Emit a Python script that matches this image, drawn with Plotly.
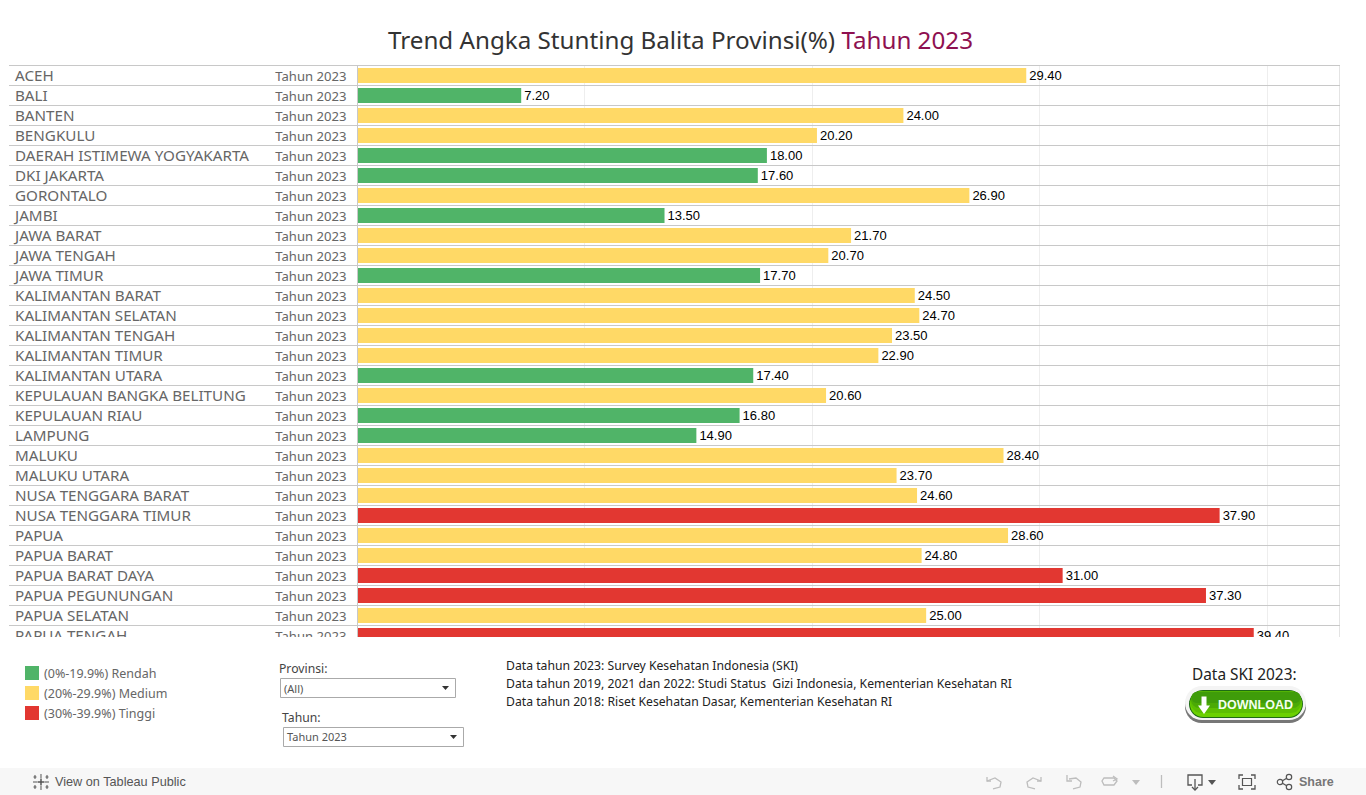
import math
import plotly.graph_objects as go

W, H = 1366, 795

provinces = ["ACEH", "BALI", "BANTEN", "BENGKULU", "DAERAH ISTIMEWA YOGYAKARTA", "DKI JAKARTA", "GORONTALO",
             "JAMBI", "JAWA BARAT", "JAWA TENGAH", "JAWA TIMUR", "KALIMANTAN BARAT", "KALIMANTAN SELATAN",
             "KALIMANTAN TENGAH", "KALIMANTAN TIMUR", "KALIMANTAN UTARA", "KEPULAUAN BANGKA BELITUNG",
             "KEPULAUAN RIAU", "LAMPUNG", "MALUKU", "MALUKU UTARA", "NUSA TENGGARA BARAT",
             "NUSA TENGGARA TIMUR", "PAPUA", "PAPUA BARAT", "PAPUA BARAT DAYA", "PAPUA PEGUNUNGAN",
             "PAPUA SELATAN", "PAPUA TENGAH"]
values = [29.40, 7.20, 24.00, 20.20, 18.00, 17.60, 26.90, 13.50, 21.70, 20.70, 17.70, 24.50, 24.70, 23.50,
          22.90, 17.40, 20.60, 16.80, 14.90, 28.40, 23.70, 24.60, 37.90, 28.60, 24.80, 31.00, 37.30, 25.00, 39.40]
category_colors = {"low": "#50B468", "mid": "#FFD966", "high": "#E23731"}
categories = ["mid", "low", "mid", "mid", "low", "low", "mid", "low", "mid", "mid", "low", "mid", "mid", "mid",
              "mid", "low", "mid", "low", "low", "mid", "mid", "mid", "high", "mid", "mid", "high", "high", "mid", "high"]
year_label = "Tahun 2023"
legend_items = [("(0%-19.9%) Rendah", "low"), ("(20%-29.9%) Medium", "mid"), ("(30%-39.9%) Tinggi", "high")]
notes = ["Data tahun 2023: Survey Kesehatan Indonesia (SKI)",
         "Data tahun 2019, 2021 dan 2022: Studi Status  Gizi Indonesia, Kementerian Kesehatan RI",
         "Data tahun 2018: Riset Kesehatan Dasar, Kementerian Kesehatan RI"]

FONT = "Noto Sans"
PX_PER_UNIT = 22.75
X0 = 357.4
L, R, T, B = 9, 1340, 65, 637
idx = list(range(len(provinces)))
TEXT_SHIFT = 0.09  # row units: centres scatter text on the row


def px2x(px):
    return (px - X0) / PX_PER_UNIT


def fx(p):
    return p / W


def fy(p):
    return 1 - p / H


shapes = []
annots = []


def rect(x0, y0, x1, y1, fill=None, line=None, lw=1):
    shapes.append(dict(type="rect", xref="paper", yref="paper", x0=fx(x0), x1=fx(x1), y0=fy(y0), y1=fy(y1),
                       fillcolor=fill or "rgba(0,0,0,0)", line=dict(color=line or "rgba(0,0,0,0)", width=lw if line else 0),
                       layer="above"))


def path(points, color="#BDBDBD", fill=None, lw=1.3, closed=False):
    d = "M" + " L".join(f"{fx(a):.5f},{fy(b):.5f}" for a, b in points) + (" Z" if closed else "")
    shapes.append(dict(type="path", xref="paper", yref="paper", path=d, fillcolor=fill or "rgba(0,0,0,0)",
                       line=dict(color=color, width=lw) if color != "none" else dict(width=0), layer="above"))


def pill(x0, y0, x1, y1, fill):
    r = (y1 - y0) / 2
    cy = (y0 + y1) / 2
    steps = 16
    pts = [(x1 - r + r * math.sin(math.pi * k / steps), cy - r * math.cos(math.pi * k / steps)) for k in range(steps + 1)]
    pts += [(x0 + r - r * math.sin(math.pi * k / steps), cy + r * math.cos(math.pi * k / steps)) for k in range(steps + 1)]
    path(pts, color="none", fill=fill, closed=True)


def text(x, y, s, size=12, color="#555", anchor="left", family=FONT):
    annots.append(dict(xref="paper", yref="paper", x=fx(x), y=fy(y), text=s, showarrow=False, xanchor=anchor,
                       yanchor="middle", font=dict(size=size, color=color, family=family), align=anchor))


fig = go.Figure()

fig.add_trace(go.Bar(y=idx, x=values, orientation="h", width=0.75,
                     marker=dict(color=[category_colors[c] for c in categories], line=dict(width=0)),
                     text=[f"{v:.2f}" for v in values], textposition="outside", textangle=0,
                     constraintext="none", cliponaxis=True,
                     textfont=dict(family="Liberation Sans", size=13, color="#000"), hoverinfo="skip"))
fig.add_trace(go.Scatter(y=[i + TEXT_SHIFT for i in idx], x=[px2x(15)] * len(idx), mode="text", text=provinces,
                         textposition="middle right", textfont=dict(family=FONT, size=15.2, color="#666"),
                         cliponaxis=True, hoverinfo="skip"))
fig.add_trace(go.Scatter(y=[i + TEXT_SHIFT + 0.01 for i in idx], x=[px2x(346.5)] * len(idx), mode="text",
                         text=[year_label] * len(idx), textposition="middle left",
                         textfont=dict(family=FONT, size=13.1, color="#666"), cliponaxis=True, hoverinfo="skip"))

# frame lines
for xv in (px2x(357.5), px2x(1340)):
    shapes.append(dict(type="line", xref="x", yref="paper", x0=xv, x1=xv, y0=fy(B), y1=fy(65.5),
                       line=dict(color="#C8C8C8", width=1), layer="above"))
shapes.append(dict(type="line", xref="paper", yref="paper", x0=fx(L), x1=fx(R), y0=fy(65.5), y1=fy(65.5),
                   line=dict(color="#C8C8C8", width=1), layer="above"))

# toolbar
rect(0, 768, W, 795, fill="#F7F7F7")

# title
annots.append(dict(xref="paper", yref="paper", x=fx(680), y=fy(40), showarrow=False, xanchor="center", yanchor="middle",
                   text='Trend Angka Stunting Balita Provinsi(%) <span style="color:#8E1050">Tahun 2023</span>',
                   font=dict(family=FONT, size=24.2, color="#333")))

# legend
for i, (lab, c) in enumerate(legend_items):
    y = 673 + 20 * i
    rect(25, y - 7, 39, y + 7, fill=category_colors[c])
    text(42, y + 0.5, lab, 12.5, "#666")

# filters
text(277, 668.5, "Provinsi:", 12.2, "#444")
rect(280.5, 678.5, 455.5, 697.5, fill="#fff", line="#AAAAAA")
text(281.5, 688, "(All)", 11, "#555")
path([(442, 686), (449, 686), (445.5, 690)], color="none", fill="#333", closed=True)
text(279.5, 717.5, "Tahun:", 12.2, "#444")
rect(283.5, 727.5, 463.5, 746.5, fill="#fff", line="#AAAAAA")
text(284.5, 736.5, year_label, 11, "#555")
path([(450, 735), (457, 735), (453.5, 739)], color="none", fill="#333", closed=True)

# notes
for i, n in enumerate(notes):
    text(504, 665.5 + 18 * i, n, 12.2, "#222")

# download button
text(1244, 674.5, "Data SKI 2023:", 15.4, "#222", "center")
pill(1185, 690, 1306, 723, "#777777")
pill(1185, 686, 1306, 720, "#F4F4F4")
pill(1189, 690, 1303, 718, "#1F6B14")
pill(1190, 691, 1302, 717, "#6BD000")
pill(1190.5, 691, 1301.5, 713, "#5CBE02")
pill(1191, 691.5, 1301, 708, "#4BAA06")
pill(1191.5, 692, 1300.5, 703, "#3F9C0A")
path([(1201.5, 696.5), (1206.5, 696.5), (1206.5, 705.5), (1210, 705.5), (1204, 714), (1198, 705.5), (1201.5, 705.5)],
     color="none", fill="#fff", closed=True)
annots.append(dict(xref="paper", yref="paper", x=fx(1255), y=fy(705), text="<b>DOWNLOAD</b>", showarrow=False,
                   xanchor="center", yanchor="middle", font=dict(size=12.5, color="#F4FFF0", family="Liberation Sans")))

# toolbar content
C = "#BDBDBD"
G = "#555555"
path([(41, 774), (41, 778)], G, lw=1)
path([(41, 786), (41, 790)], G, lw=1)
path([(33, 782), (37, 782)], G, lw=1)
path([(45, 782), (49, 782)], G, lw=1)
path([(41, 778.5), (41, 785.5)], G, lw=1.5)
path([(37.5, 782), (44.5, 782)], G, lw=1.5)
path([(35, 775), (35, 779)], G, lw=1)
path([(33.5, 777), (36.5, 777)], G, lw=1)
path([(47, 775), (47, 779)], G, lw=1)
path([(45.5, 777), (48.5, 777)], G, lw=1)
path([(35, 785), (35, 789)], G, lw=1)
path([(33.5, 787), (36.5, 787)], G, lw=1)
path([(47, 785), (47, 789)], G, lw=1)
path([(45.5, 787), (48.5, 787)], G, lw=1)
text(53, 781.5, "View on Tableau Public", 12.7, "#555", family="Liberation Sans")

path([(987, 777), (987, 781), (991, 781)], C)
path([(987, 781), (995, 778), (1001, 782), (1000, 787), (993, 789)], C)
path([(1041, 777), (1041, 781), (1037, 781)], C)
path([(1041, 781), (1033, 778), (1027, 782), (1028, 787), (1035, 789)], C)
path([(1067, 775), (1067, 781), (1072, 781)], C)
path([(1069, 779), (1076, 778), (1081, 782), (1080, 787), (1073, 789)], C)
path([(1114, 778), (1104, 778), (1102, 781), (1104, 785), (1114, 785), (1117, 781), (1114, 778)], C)
path([(1113, 776), (1117, 779), (1113, 781)], C)
path([(1132, 780), (1140, 780), (1136, 785)], color="none", fill=C, closed=True)
path([(1161.5, 775), (1161.5, 788)], C)
path([(1192, 785), (1188, 785), (1188, 775), (1202, 775), (1202, 785), (1198, 785)], G)
path([(1195, 779), (1195, 790)], G)
path([(1192, 787), (1195, 790), (1198, 787)], G)
path([(1208, 780), (1216, 780), (1212, 785)], color="none", fill=G, closed=True)
for pts in ([(1239, 779), (1239, 775), (1243, 775)], [(1251, 775), (1255, 775), (1255, 779)],
            [(1255, 785), (1255, 789), (1251, 789)], [(1243, 789), (1239, 789), (1239, 785)]):
    path(pts, G)
rect(1242.5, 778.5, 1251.5, 785.5, line=G, lw=1.2)
for cx, cy in ((1280, 782), (1289, 777), (1289, 787)):
    shapes.append(dict(type="circle", xref="paper", yref="paper", x0=fx(cx - 2.7), x1=fx(cx + 2.7), y0=fy(cy - 2.7),
                       y1=fy(cy + 2.7), line=dict(color=G, width=1.2), layer="above"))
path([(1282.5, 780.8), (1286.7, 778.2)], G)
path([(1282.5, 783.2), (1286.7, 785.8)], G)
annots.append(dict(xref="paper", yref="paper", x=fx(1297), y=fy(782), text="<b>Share</b>", showarrow=False,
                   xanchor="left", yanchor="middle", font=dict(size=12.5, color="#777", family="Liberation Sans")))

fig.update_layout(
    width=W, height=H, margin=dict(l=0, r=0, t=0, b=0), paper_bgcolor="#fff", plot_bgcolor="#fff",
    showlegend=False, shapes=shapes, annotations=annots,
    xaxis=dict(domain=[fx(L), fx(R)], range=[px2x(L), px2x(R)], tickvals=[10, 20, 30, 40], showticklabels=False,
               ticks="", showgrid=True, gridcolor="#EEEEEE", gridwidth=1, zeroline=False, showline=False),
    yaxis=dict(domain=[fy(B), fy(T)], range=[(B - 75.5) / 20, (T - 75.5) / 20],
               tickvals=[i - 0.5 for i in range(len(provinces) + 1)], showticklabels=False, ticks="",
               showgrid=True, gridcolor="#C8C8C8", gridwidth=1, zeroline=False, showline=False),
)

fig.write_html("out.html", config=dict(displayModeBar=False),
               post_script="document.body.style.margin='0';document.body.style.overflow='hidden';")
